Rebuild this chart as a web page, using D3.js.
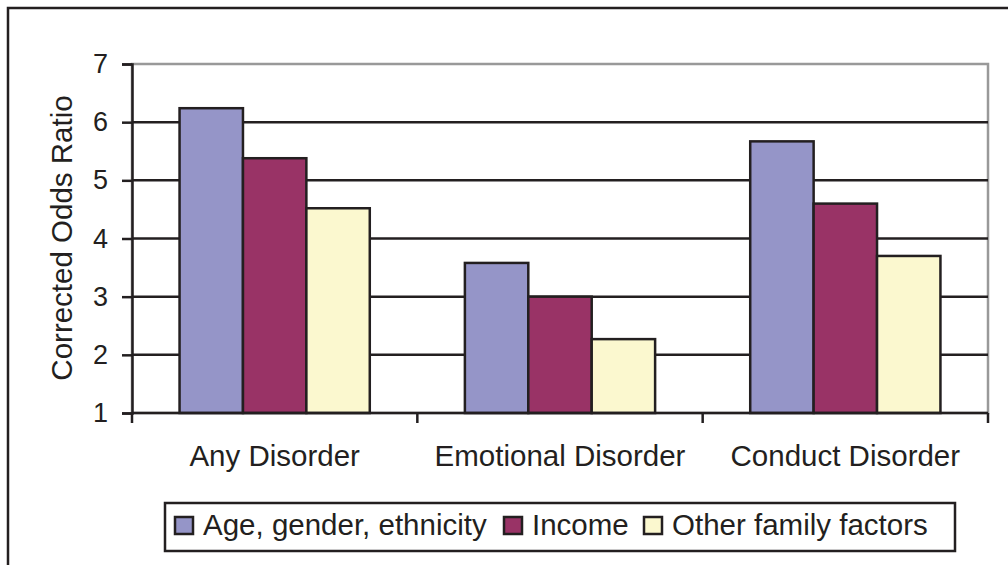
<!DOCTYPE html>
<html><head><meta charset="utf-8">
<script src="https://cdn.jsdelivr.net/npm/d3@7"></script>
<style>body{margin:0;background:#fff}svg{display:block}text{font-family:"Liberation Sans",Arial,sans-serif;fill:#231f20}</style>
</head><body><svg id="c" width="1008" height="565"></svg>
<script>
const categories = ["Any Disorder", "Emotional Disorder", "Conduct Disorder"];
const seriesNames = ["Age, gender, ethnicity", "Income", "Other family factors"];
const ageGenderEthnicity = [6.24, 3.58, 5.67];
const income = [5.38, 3.0, 4.6];
const otherFamily = [4.52, 2.27, 3.70];
const yTicks = [1, 2, 3, 4, 5, 6, 7];
const colors = ["#9595c8", "#993366", "#fbf8cf"];
const seriesValues = [ageGenderEthnicity, income, otherFamily];

const svg = d3.select("#c");
const ink = "#231f20";
// outer frame
svg.append("rect").attr("x", 8).attr("y", 8).attr("width", 1100).attr("height", 700)
  .attr("fill", "none").attr("stroke", ink).attr("stroke-width", 2.5);

const L = 132, R = 988, T = 64, B = 413;
const x = d3.scaleBand().domain(categories).range([L, R]).paddingInner(0).paddingOuter(0);
const y = d3.scaleLinear().domain([1, 7]).range([B, T]);
const xs = d3.scaleBand().domain(d3.range(3)).range([0, x.bandwidth()]).paddingInner(0).paddingOuter(0.75);

// plot border (gray)
svg.append("rect").attr("x", L).attr("y", T).attr("width", R - L).attr("height", B - T)
  .attr("fill", "none").attr("stroke", "#999").attr("stroke-width", 2.5);
// gridlines
svg.append("g").selectAll("line").data(yTicks.filter(d => d > 1 && d < 7)).join("line")
  .attr("x1", L).attr("x2", R).attr("y1", d => y(d)).attr("y2", d => y(d))
  .attr("stroke", ink).attr("stroke-width", 2.5);

// bars
const g = svg.append("g");
categories.forEach((c, ci) => {
  seriesValues.forEach((vals, si) => {
    g.append("rect")
      .attr("x", x(c) + xs(si)).attr("width", xs.bandwidth())
      .attr("y", y(vals[ci])).attr("height", y(1) - y(vals[ci]))
      .attr("fill", colors[si]).attr("stroke", ink).attr("stroke-width", 2.5);
  });
});

// y axis
const yAxis = d3.axisLeft(y).tickValues(yTicks).tickSize(10).tickPadding(14).tickFormat(d3.format("d"));
const ya = svg.append("g").attr("transform", `translate(${L},0)`).call(yAxis);
ya.select(".domain").attr("stroke", ink).attr("stroke-width", 2.5);
ya.selectAll(".tick line").attr("stroke", ink).attr("stroke-width", 2.5);
ya.selectAll(".tick text").style("font-size", "27px").style("font-family", "Liberation Sans, Arial, sans-serif").attr("fill", ink);

// x axis
svg.append("line").attr("x1", L).attr("x2", R).attr("y1", B).attr("y2", B).attr("stroke", ink).attr("stroke-width", 2.5);
const bounds = categories.map(c => x(c)).concat([R]);
svg.append("g").selectAll("line").data(bounds).join("line")
  .attr("x1", d => d).attr("x2", d => d).attr("y1", B).attr("y2", B + 10)
  .attr("stroke", ink).attr("stroke-width", 2.5);
svg.append("g").selectAll("text").data(categories).join("text")
  .attr("x", d => x(d) + x.bandwidth() / 2).attr("y", 466)
  .attr("text-anchor", "middle").style("font-size", "29.5px").text(d => d);

// y title
svg.append("text").attr("transform", "translate(72,238) rotate(-90)")
  .attr("text-anchor", "middle").style("font-size", "29.5px").text("Corrected Odds Ratio");

// legend
svg.append("rect").attr("x", 165).attr("y", 503).attr("width", 790).attr("height", 48)
  .attr("fill", "#fff").attr("stroke", ink).attr("stroke-width", 2.5);
const legX = [175, 504, 644];
seriesNames.forEach((n, i) => {
  svg.append("rect").attr("x", legX[i]).attr("y", 517).attr("width", 18).attr("height", 17)
    .attr("fill", colors[i]).attr("stroke", ink).attr("stroke-width", 2.5);
  svg.append("text").attr("x", legX[i] + 28).attr("y", 535).style("font-size", "29.5px").text(n);
});
</script></body></html>
